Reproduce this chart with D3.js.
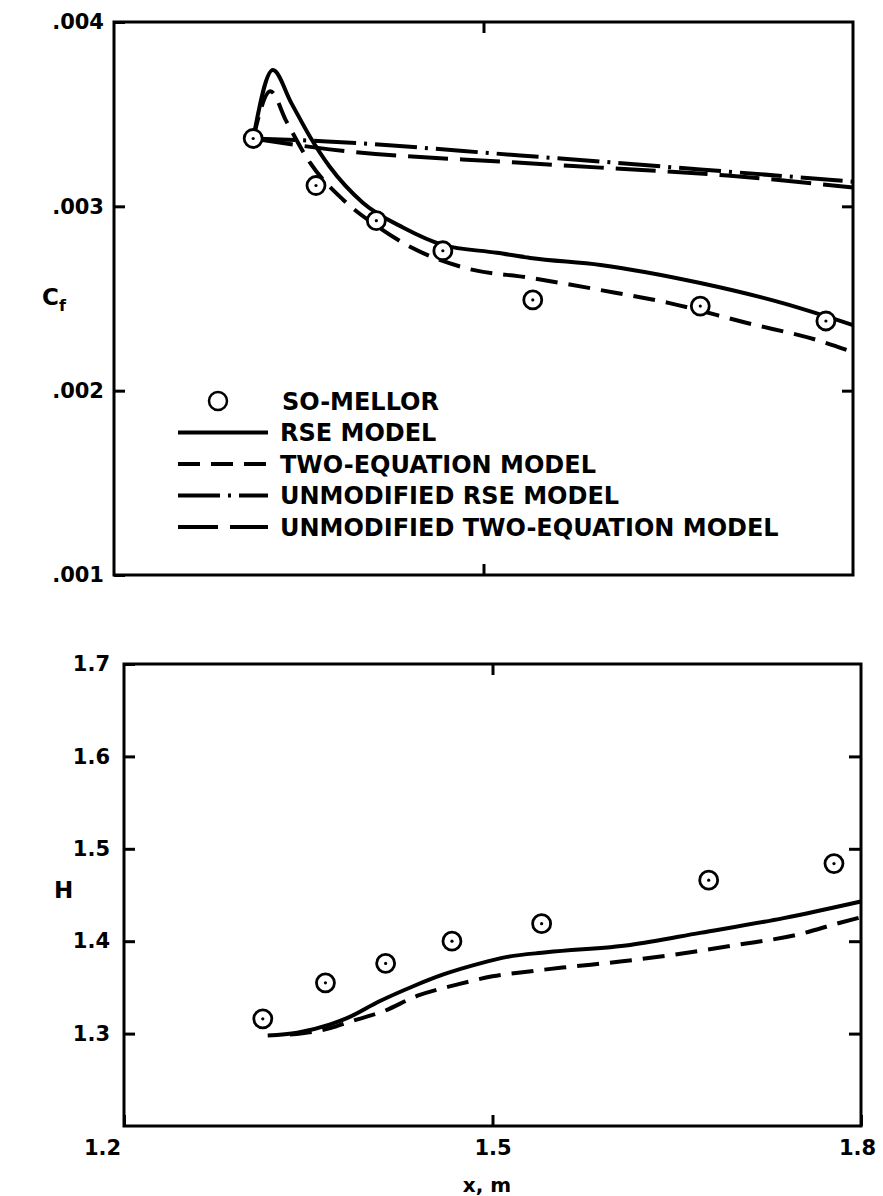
<!DOCTYPE html>
<html>
<head>
<meta charset="utf-8">
<script src="https://cdn.jsdelivr.net/npm/d3@7"></script>
<style>
  body { margin: 0; background: #fff; }
  text { font-family: "DejaVu Sans", sans-serif; font-weight: bold; fill: #000; }
</style>
</head>
<body>
<svg width="883" height="1196"></svg>
<script>
// So-Mellor experimental points (same stations in both panels)
var melX  = [1.313, 1.364, 1.413, 1.467, 1.540, 1.676, 1.778];
var melCf = [0.003368, 0.003113, 0.002922, 0.002759, 0.002492, 0.002459, 0.002378];
var melH  = [1.316, 1.355, 1.376, 1.400, 1.419, 1.466, 1.484];

// skin friction curves
var rseCfX = [1.313, 1.329, 1.344, 1.359, 1.375, 1.402, 1.435, 1.467, 1.511, 1.538, 1.595, 1.676, 1.743, 1.800];
var rseCf  = [0.003368, 0.003739, 0.003560, 0.003379, 0.003216, 0.003020, 0.002884, 0.002791, 0.002748, 0.002720, 0.002682, 0.002584, 0.002475, 0.002356];

var twoCfX = [1.313, 1.327, 1.340, 1.359, 1.386, 1.413, 1.442, 1.485, 1.538, 1.595, 1.651, 1.714, 1.771, 1.800];
var twoCf  = [0.003368, 0.003624, 0.003461, 0.003238, 0.003036, 0.002895, 0.002775, 0.002666, 0.002612, 0.002546, 0.002475, 0.002367, 0.002274, 0.002209];

var unRseCfX = [1.313, 1.373, 1.530, 1.595, 1.676, 1.800];
var unRseCf  = [0.003368, 0.003352, 0.003276, 0.003243, 0.003200, 0.003134];

var unTwoCfX = [1.313, 1.375, 1.527, 1.595, 1.698, 1.800];
var unTwoCf  = [0.003368, 0.003309, 0.003238, 0.003210, 0.003167, 0.003102];

// shape factor curves
var rseHX = [1.317, 1.341, 1.368, 1.382, 1.408, 1.435, 1.460, 1.490, 1.512, 1.544, 1.612, 1.669, 1.737, 1.800];
var rseH  = [1.298, 1.301, 1.310, 1.317, 1.335, 1.351, 1.364, 1.376, 1.383, 1.388, 1.396, 1.409, 1.425, 1.443];

var twoHX = [1.335, 1.368, 1.384, 1.411, 1.439, 1.471, 1.500, 1.528, 1.561, 1.604, 1.646, 1.699, 1.748, 1.783, 1.800];
var twoH  = [1.299, 1.306, 1.313, 1.324, 1.341, 1.353, 1.362, 1.367, 1.372, 1.378, 1.385, 1.396, 1.407, 1.420, 1.426];

var cfTicks = [0.001, 0.002, 0.003, 0.004];
var hTicks  = [1.3, 1.4, 1.5, 1.6, 1.7];
var xTicks  = [1.2, 1.5, 1.8];

var legendItems = [
  { label: "SO-MELLOR", dash: null },
  { label: "RSE MODEL", dash: "none" },
  { label: "TWO-EQUATION MODEL", dash: "22,11" },
  { label: "UNMODIFIED RSE MODEL", dash: "42,8,3,8" },
  { label: "UNMODIFIED TWO-EQUATION MODEL", dash: "40,12" }
];

function main() {
  var svg = d3.select("svg");

  // ---------- top panel: Cf ----------
  var x1 = d3.scaleLinear().domain([1.2, 1.8]).range([114, 853]),
      y1 = d3.scaleLinear().domain([0.001, 0.004]).range([575, 22]);

  var g1 = svg.append("g");

  g1.append("g").attr("transform", "translate(114,0)")
    .call(d3.axisLeft(y1).tickValues(cfTicks).tickSizeInner(-11).tickSizeOuter(0).tickPadding(10)
      .tickFormat(function(d) { return d3.format(".3f")(d).replace(/^0/, ""); }))
    .call(styleAxis);
  g1.append("g").attr("transform", "translate(853,0)")
    .call(d3.axisRight(y1).tickValues([0.002, 0.003]).tickSizeInner(-11).tickSizeOuter(0).tickFormat(""))
    .call(styleAxis);
  g1.append("g").attr("transform", "translate(0,575)")
    .call(d3.axisBottom(x1).tickValues([1.5]).tickSizeInner(-11).tickSizeOuter(0).tickFormat(""))
    .call(styleAxis);
  g1.append("g").attr("transform", "translate(0,22)")
    .call(d3.axisTop(x1).tickValues([1.5]).tickSizeInner(-11).tickSizeOuter(0).tickFormat(""))
    .call(styleAxis);

  g1.append("rect").attr("x", 114).attr("y", 22).attr("width", 739).attr("height", 553)
    .attr("fill", "none").attr("stroke", "#000").attr("stroke-width", 3);

  drawCurve(g1, x1, y1, unRseCfX, unRseCf, "42,8,3,8");
  drawCurve(g1, x1, y1, unTwoCfX, unTwoCf, "40,12");
  drawCurve(g1, x1, y1, twoCfX, twoCf, "22,11");
  drawCurve(g1, x1, y1, rseCfX, rseCf, null);
  drawPoints(g1, x1, y1, melX, melCf);

  // C_f label
  var cf = g1.append("text").attr("x", 42).attr("y", 305).attr("font-size", "23px");
  cf.append("tspan").text("C");
  cf.append("tspan").attr("dy", 6).attr("font-size", "16px").text("f");

  // legend
  var leg = g1.append("g");
  legendItems.forEach(function(item, i) {
    var ly = 401 + i * 31.5;
    if (item.dash === null) {
      leg.append("circle").attr("cx", 218).attr("cy", ly).attr("r", 9)
        .attr("fill", "#fff").attr("stroke", "#000").attr("stroke-width", 2.5);
    } else {
      leg.append("line").attr("x1", 178).attr("x2", 268).attr("y1", ly).attr("y2", ly)
        .attr("stroke", "#000").attr("stroke-width", 4)
        .attr("stroke-dasharray", item.dash === "none" ? null : item.dash);
    }
    leg.append("text").attr("x", i === 0 ? 282 : 280).attr("y", ly).attr("dy", "0.36em")
      .attr("font-size", "24px").text(item.label);
  });

  // ---------- bottom panel: H ----------
  var x2 = d3.scaleLinear().domain([1.2, 1.8]).range([124, 861]),
      y2 = d3.scaleLinear().domain([1.2, 1.7]).range([1126, 664]);

  var g2 = svg.append("g");

  g2.append("g").attr("transform", "translate(124,0)")
    .call(d3.axisLeft(y2).tickValues(hTicks).tickSizeInner(-11).tickSizeOuter(0).tickPadding(14)
      .tickFormat(d3.format(".1f")))
    .call(styleAxis);
  g2.append("g").attr("transform", "translate(861,0)")
    .call(d3.axisRight(y2).tickValues([1.3, 1.4, 1.5, 1.6]).tickSizeInner(-12).tickSizeOuter(0).tickFormat(""))
    .call(styleAxis);
  var xa = g2.append("g").attr("transform", "translate(0,1126)")
    .call(d3.axisBottom(x2).tickValues(xTicks).tickSizeInner(-11).tickSizeOuter(0).tickPadding(14)
      .tickFormat(d3.format(".1f")))
    .call(styleAxis);
  xa.selectAll(".tick text").attr("dx", function(d) { return d === 1.2 ? -22 : (d === 1.8 ? -4 : 0); });
  g2.append("g").attr("transform", "translate(0,664)")
    .call(d3.axisTop(x2).tickValues([1.5]).tickSizeInner(-11).tickSizeOuter(0).tickFormat(""))
    .call(styleAxis);

  g2.append("rect").attr("x", 124).attr("y", 664).attr("width", 737).attr("height", 462)
    .attr("fill", "none").attr("stroke", "#000").attr("stroke-width", 3);

  drawCurve(g2, x2, y2, twoHX, twoH, "22,11");
  drawCurve(g2, x2, y2, rseHX, rseH, null);
  drawPoints(g2, x2, y2, melX, melH);

  g2.append("text").attr("x", 54).attr("y", 898).attr("font-size", "23px").text("H");
  g2.append("text").attr("x", 487).attr("y", 1192).attr("text-anchor", "middle")
    .attr("font-size", "20px").text("x, m");
}

function styleAxis(sel) {
  sel.select(".domain").remove();
  sel.selectAll(".tick line").attr("stroke", "#000").attr("stroke-width", 3);
  sel.selectAll(".tick text").attr("fill", "#000").attr("font-size", "21px")
    .attr("font-family", "DejaVu Sans, sans-serif").attr("font-weight", "bold");
}

function drawCurve(g, xs, ys, xv, yv, dash) {
  var line = d3.line()
    .x(function(i) { return xs(xv[i]); })
    .y(function(i) { return ys(yv[i]); })
    .curve(d3.curveMonotoneX);
  g.append("path").attr("d", line(d3.range(xv.length)))
    .attr("fill", "none").attr("stroke", "#000").attr("stroke-width", 4)
    .attr("stroke-dasharray", dash);
}

function drawPoints(g, xs, ys, xv, yv) {
  var pts = g.selectAll(null).data(d3.range(xv.length)).enter().append("g")
    .attr("transform", function(i) { return "translate(" + xs(xv[i]) + "," + ys(yv[i]) + ")"; });
  pts.append("circle").attr("r", 9).attr("fill", "#fff").attr("stroke", "#000").attr("stroke-width", 2.8);
  pts.append("circle").attr("r", 1.6).attr("fill", "#000");
}

main();
</script>
</body>
</html>
